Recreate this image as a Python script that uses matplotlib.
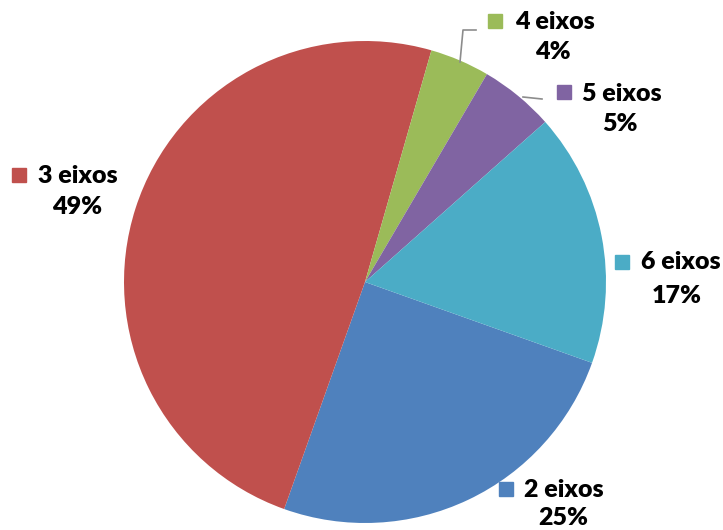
import matplotlib.pyplot as plt

# dados do gráfico
categorias = ['2 eixos', '3 eixos', '4 eixos', '5 eixos', '6 eixos']
percentuais = [25, 49, 4, 5, 17]
cores = ['#4F81BD', '#C0504D', '#9BBB59', '#8064A2', '#4BACC6']

W, H = 723, 530

fig = plt.figure(figsize=(W / 100, H / 100), dpi=100)
ax = fig.add_axes([0, 0, 1, 1])

# pizza em coordenadas de pixel (y para cima)
centro = (365, H - 282)
raio = 241
ax.pie(percentuais, colors=cores, startangle=-19.6, counterclock=False,
       center=centro, radius=raio, frame=True,
       wedgeprops=dict(linewidth=0))
ax.set_xlim(0, W)
ax.set_ylim(0, H)
ax.set_aspect('equal')
ax.axis('off')

# posição dos rótulos (marcador, texto, percentual) em pixels da imagem
rotulos = {
    '2 eixos': ((506, 489), (524, 490), (563, 518)),
    '3 eixos': ((19, 175), (38, 176), (77, 207)),
    '4 eixos': ((495, 21), (515, 22), (553, 52)),
    '5 eixos': ((564, 92), (582, 94), (620, 124)),
    '6 eixos': ((622, 262), (641, 262), (677, 296)),
}

fonte = dict(family=['Lato', 'DejaVu Sans'], fontweight='heavy', fontsize=18,
             color='black')

for nome, pct, cor in zip(categorias, percentuais, cores):
    (mx, my), (tx, ty), (px, py) = rotulos[nome]
    ax.plot([mx], [H - my], marker='s', markersize=10, color=cor,
            linestyle='none')
    ax.text(tx, H - ty, nome, ha='left', va='center', **fonte)
    ax.text(px, H - py, f'{pct}%', ha='center', va='center', **fonte)

# linhas de chamada
ax.plot([460, 463, 476], [H - 62, H - 30, H - 30], color='#8c8c8c', lw=1.2)
ax.plot([523, 542], [H - 97, H - 99], color='#8c8c8c', lw=1.2)

fig.savefig('out.png', dpi=100, facecolor='white')
